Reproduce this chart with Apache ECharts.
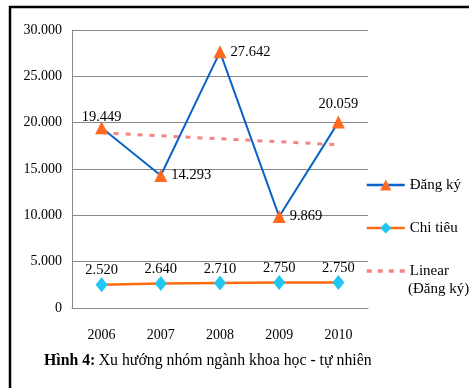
<!DOCTYPE html>
<html><head><meta charset="utf-8">
<script src="https://cdn.jsdelivr.net/npm/echarts@6/dist/echarts.min.js"></script>
<style>html,body{margin:0;padding:0;background:#fff}#c{width:469px;height:388px}</style>
</head><body><div id="c"></div>
<script>
const categories = ['2006','2007','2008','2009','2010'];
const dangKy = [19449, 14293, 27642, 9869, 20059];
const chiTieu = [2520, 2640, 2710, 2750, 2750];
const linearDangKy = [18903, 18583, 18262, 17942, 17621];
const yTicks = [0, 5000, 10000, 15000, 20000, 25000, 30000];

const fmt = v => {
  const s = String(Math.round(v));
  return s.replace(/\B(?=(\d{3})+(?!\d))/g, '.');
};
const FONT = 'Liberation Serif';
const dkPos = ['top','right','right','right','top'];
const dkDist = [-3, 4, 4, 4, 4];

const chart = echarts.init(document.getElementById('c'));
chart.setOption({
  animation: false,
  backgroundColor: '#fff',
  textStyle: {fontFamily: FONT},
  graphic: [
    {type:'rect', shape:{x:10, y:7, width:520, height:500}, style:{fill:'none', stroke:'#000', lineWidth:2.5}, z:100},
    {type:'text', left:44, top:353, style:{rich:{b:{fontFamily:FONT,fontSize:15.8,fontWeight:'bold',fill:'#000'}, n:{fontFamily:FONT,fontSize:15.8,fill:'#000'}}, text:'{b|Hình 4:} {n|Xu hướng nhóm ngành khoa học - tự nhiên}'}},
    {type:'text', left:408, top:282, style:{text:'(Đăng ký)', fontFamily:FONT, fontSize:15, fill:'#000'}}
  ],
  grid: {left:72, top:30, right:101, bottom:80},
  legend: {
    orient:'vertical', left:365, top:175, padding:0, itemWidth:38, itemHeight:14, itemGap:23,
    textStyle:{fontFamily:FONT, fontSize:15, color:'#000', lineHeight:20},
    formatter: n => n === 'Linear (Đăng ký)' ? 'Linear' : n,
    data:[
      {name:'Đăng ký', lineStyle:{width:2.5}},
      {name:'Chi tiêu', lineStyle:{width:2.5}},
      {name:'Linear (Đăng ký)', itemStyle:{opacity:0}, lineStyle:{width:3.5, type:[5,6]}}
    ]
  },
  xAxis: {
    type:'category', data:categories, boundaryGap:true,
    axisLine:{lineStyle:{color:'#888', width:1}}, axisTick:{show:false},
    axisLabel:{color:'#000', fontFamily:FONT, fontSize:14, margin:20}
  },
  yAxis: {
    type:'value', min:0, max:30000, interval:5000,
    axisLine:{show:true, lineStyle:{color:'#888', width:1}}, axisTick:{show:false},
    splitLine:{lineStyle:{color:'#888', width:1}},
    axisLabel:{color:'#000', fontFamily:FONT, fontSize:14, margin:10, formatter:v => yTicks.includes(v) ? fmt(v) : ''}
  },
  series: [
    {
      name:'Linear (Đăng ký)', type:'line', data:linearDangKy, symbol:'none', z:1,
      lineStyle:{color:'#F48383', width:3, type:[5,7]}, itemStyle:{color:'#F48383'}
    },
    {
      name:'Đăng ký', type:'line', z:3,
      data: dangKy.map((v,i)=>({value:v, label:{position:dkPos[i], distance:dkDist[i]}})),
      symbol:'triangle', symbolSize:13,
      lineStyle:{color:'#0A64C8', width:2}, itemStyle:{color:'#FF6A1F'},
      label:{show:true, formatter:p=>fmt(p.value), color:'#000', fontFamily:FONT, fontSize:14.5}
    },
    {
      name:'Chi tiêu', type:'line', z:3, data:chiTieu,
      symbol:'diamond', symbolSize:[12,15],
      lineStyle:{color:'#FF6A10', width:2.5}, itemStyle:{color:'#22C6F2'},
      label:{show:true, position:'top', formatter:p=>fmt(p.value), color:'#000', fontFamily:FONT, fontSize:14.5, distance:-1}
    }
  ]
});
</script></body></html>
